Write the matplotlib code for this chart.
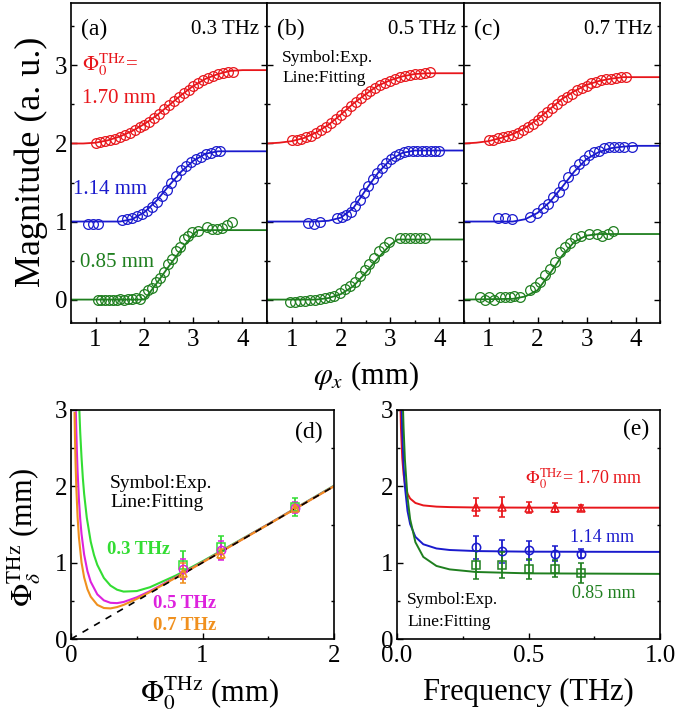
import matplotlib
matplotlib.use("Agg")
import matplotlib.pyplot as plt
from matplotlib.ticker import MultipleLocator

plt.rcParams['font.family'] = ['Liberation Serif', 'DejaVu Serif']
plt.rcParams['mathtext.fontset'] = 'stix'

# ---------------- data: panels (a)-(c), magnitude vs phi_x ----------------
fit_grid = [0.5, 0.75, 1.0, 1.25, 1.5, 1.75, 2.0, 2.25, 2.5, 2.75, 3.0, 3.25, 3.5, 3.75, 4.0, 4.25, 4.5]

# (a) 0.3 THz
a_red_fit = [2.00, 2.00, 2.01, 2.04, 2.09, 2.16, 2.25, 2.36, 2.49, 2.62, 2.74, 2.83, 2.89, 2.93, 2.94, 2.94, 2.94]
a_blue_fit = [1.0, 1.0, 1.0, 1.0, 1.0, 1.03, 1.12, 1.27, 1.46, 1.64, 1.78, 1.87, 1.90, 1.90, 1.90, 1.90, 1.90]
a_green_fit_x = [0.5, 2.0, 2.25, 2.5, 2.75, 3.0, 3.1, 4.5]
a_green_fit = [0.0, 0.0, 0.21, 0.43, 0.64, 0.84, 0.89, 0.89]

a_red_x = [1.0, 1.1, 1.2, 1.3, 1.4, 1.5, 1.6, 1.7, 1.8, 1.9, 2.0, 2.1, 2.2, 2.3, 2.4, 2.5, 2.6, 2.7, 2.8, 2.9,
           3.0, 3.1, 3.2, 3.3, 3.4, 3.5, 3.6, 3.7, 3.8]
a_red_y = [2.00, 2.02, 2.03, 2.04, 2.06, 2.08, 2.11, 2.14, 2.17, 2.21, 2.24, 2.28, 2.33, 2.38, 2.44, 2.49, 2.54,
           2.60, 2.65, 2.69, 2.74, 2.78, 2.81, 2.84, 2.87, 2.89, 2.90, 2.91, 2.92]
a_blue_x = [0.85, 0.95, 1.05, 1.55, 1.65, 1.75, 1.85, 1.95, 2.05, 2.15, 2.25, 2.35, 2.45, 2.55, 2.65, 2.75, 2.85,
            2.95, 3.05, 3.15, 3.25, 3.35, 3.45, 3.55]
a_blue_y = [0.97, 0.97, 0.97, 1.02, 1.03, 1.05, 1.07, 1.10, 1.14, 1.19, 1.25, 1.33, 1.41, 1.50, 1.58, 1.66, 1.71,
            1.76, 1.80, 1.83, 1.86, 1.88, 1.90, 1.91]
a_green_x = [1.05, 1.12, 1.2, 1.28, 1.35, 1.43, 1.5, 1.58, 1.66, 1.74, 1.82, 1.9, 2.0, 2.08, 2.16, 2.24, 2.32, 2.4,
             2.48, 2.56, 2.64, 2.72, 2.8, 2.88, 2.96, 3.1, 3.27, 3.38, 3.48, 3.58, 3.68, 3.78]
a_green_y = [0.0, -0.01, 0.0, 0.0, -0.01, 0.0, 0.01, 0.0, 0.01, 0.01, 0.02, 0.01, 0.07, 0.12, 0.15, 0.22, 0.28,
             0.35, 0.45, 0.52, 0.62, 0.68, 0.78, 0.82, 0.86, 0.88, 0.93, 0.90, 0.91, 0.92, 0.95, 0.99]

# (b) 0.5 THz
b_red_fit = [2.00, 2.01, 2.03, 2.07, 2.14, 2.24, 2.37, 2.51, 2.63, 2.74, 2.81, 2.86, 2.89, 2.90, 2.90, 2.90, 2.90]
b_blue_fit = [1.0, 1.0, 1.0, 1.0, 1.0, 1.01, 1.05, 1.17, 1.40, 1.62, 1.79, 1.88, 1.91, 1.91, 1.91, 1.91, 1.91]
b_green_fit_x = [0.5, 1.5, 1.75, 2.0, 2.25, 2.5, 2.75, 3.0, 3.15, 4.5]
b_green_fit = [0.0, 0.0, 0.02, 0.07, 0.17, 0.34, 0.53, 0.70, 0.77, 0.77]

b_red_x = a_red_x
b_red_y = [2.04, 2.05, 2.06, 2.08, 2.10, 2.13, 2.17, 2.21, 2.26, 2.31, 2.36, 2.42, 2.48, 2.53, 2.58, 2.63, 2.67,
           2.71, 2.75, 2.78, 2.80, 2.83, 2.85, 2.87, 2.88, 2.89, 2.89, 2.90, 2.91]
b_blue_x = [1.33, 1.45, 1.57, 1.93, 2.02, 2.11, 2.2, 2.29, 2.38, 2.47, 2.56, 2.65, 2.74, 2.83, 2.92, 3.01, 3.1,
            3.19, 3.28, 3.37, 3.46, 3.55, 3.64, 3.73, 3.82, 3.91, 4.0]
b_blue_y = [0.98, 0.97, 0.99, 1.04, 1.06, 1.09, 1.12, 1.20, 1.28, 1.36, 1.46, 1.54, 1.62, 1.69, 1.75, 1.80, 1.84,
            1.87, 1.89, 1.90, 1.91, 1.91, 1.91, 1.91, 1.91, 1.90, 1.90]
b_green_x = [0.97, 1.07, 1.17, 1.27, 1.37, 1.47, 1.57, 1.67, 1.77, 1.87, 1.98, 2.08, 2.18, 2.28, 2.38, 2.48, 2.58,
             2.68, 2.78, 2.88, 2.98, 3.2, 3.3, 3.4, 3.5, 3.6, 3.7]
b_green_y = [-0.03, -0.03, -0.02, -0.02, -0.01, 0.0, 0.01, 0.02, 0.03, 0.05, 0.09, 0.13, 0.17, 0.23, 0.30, 0.38,
             0.45, 0.53, 0.62, 0.68, 0.74, 0.79, 0.79, 0.79, 0.79, 0.79, 0.79]

# (c) 0.7 THz
c_red_fit = [2.00, 2.01, 2.03, 2.07, 2.12, 2.20, 2.31, 2.44, 2.57, 2.67, 2.75, 2.80, 2.83, 2.85, 2.85, 2.85, 2.85]
c_blue_fit = [1.0, 1.0, 1.0, 1.0, 1.0, 1.03, 1.11, 1.25, 1.44, 1.64, 1.80, 1.89, 1.94, 1.96, 1.97, 1.97, 1.97]
c_green_fit_x = [0.5, 1.5, 1.75, 2.0, 2.25, 2.5, 2.75, 3.0, 3.25, 4.5]
c_green_fit = [0.0, 0.01, 0.04, 0.12, 0.33, 0.56, 0.74, 0.82, 0.84, 0.84]

c_red_x = a_red_x
c_red_y = [2.04, 2.05, 2.07, 2.08, 2.09, 2.11, 2.14, 2.17, 2.21, 2.25, 2.30, 2.35, 2.40, 2.46, 2.51, 2.56, 2.60,
           2.64, 2.68, 2.71, 2.74, 2.77, 2.79, 2.81, 2.82, 2.83, 2.84, 2.85, 2.85]
c_blue_x = [1.2, 1.33, 1.47, 1.84, 1.98, 2.12, 2.22, 2.32, 2.43, 2.53, 2.63, 2.74, 2.84, 2.95, 3.05, 3.15, 3.26,
            3.36, 3.46, 3.56, 3.67, 3.77, 3.92]
c_blue_y = [1.04, 1.05, 1.03, 1.06, 1.11, 1.17, 1.23, 1.32, 1.38, 1.47, 1.57, 1.66, 1.74, 1.79, 1.85, 1.89, 1.91,
            1.94, 1.96, 1.96, 1.96, 1.96, 1.96]
c_green_x = [0.82, 0.92, 1.02, 1.12, 1.23, 1.33, 1.43, 1.53, 1.64, 1.84, 1.95, 2.05, 2.15, 2.26, 2.36, 2.46, 2.57,
             2.67, 2.77, 2.88, 3.05, 3.22, 3.32, 3.43, 3.55]
c_green_y = [0.03, 0.0, 0.03, 0.0, 0.03, 0.03, 0.03, 0.04, 0.03, 0.12, 0.16, 0.22, 0.31, 0.39, 0.48, 0.61, 0.67,
             0.73, 0.79, 0.82, 0.84, 0.84, 0.82, 0.84, 0.88]

# ---------------- data: panels (d), (e) ----------------
freqs = [0.3, 0.4, 0.5, 0.6, 0.7]
phi0_vals = [0.85, 1.14, 1.70]
delta_085 = [0.97, 0.97, 0.92, 0.92, 0.87]
err_085 = [0.18, 0.17, 0.13, 0.11, 0.13]
delta_114 = [1.20, 1.15, 1.16, 1.12, 1.12]
err_114 = [0.15, 0.15, 0.12, 0.10, 0.06]
delta_170 = [1.73, 1.73, 1.72, 1.72, 1.72]
err_170 = [0.12, 0.13, 0.07, 0.06, 0.04]

# (d) fitted curves vs phi0
d_03_x = [0.063, 0.07, 0.08, 0.09, 0.1, 0.12, 0.15, 0.175, 0.2, 0.25, 0.3, 0.35, 0.4, 0.5, 0.6, 0.8, 1.0, 1.5, 2.0]
d_03_y = [3.02, 2.71, 2.38, 2.11, 1.90, 1.59, 1.275, 1.10, 0.971, 0.80, 0.70, 0.646, 0.621, 0.628, 0.678, 0.834,
          1.018, 1.505, 2.009]
d_05_x = [0.037, 0.04, 0.045, 0.05, 0.06, 0.07, 0.08, 0.1, 0.125, 0.15, 0.2, 0.25, 0.3, 0.35, 0.4, 0.5, 0.6, 0.8,
          1.0, 1.5, 2.0]
d_05_y = [2.97, 2.75, 2.445, 2.20, 1.834, 1.573, 1.377, 1.105, 0.889, 0.749, 0.585, 0.506, 0.474, 0.470, 0.485,
          0.546, 0.627, 0.812, 1.006, 1.503, 2.003]
d_07_x = [0.027, 0.03, 0.035, 0.04, 0.05, 0.06, 0.08, 0.1, 0.125, 0.15, 0.2, 0.25, 0.3, 0.35, 0.4, 0.5, 0.6, 0.8,
          1.0, 1.5, 2.0]
d_07_y = [2.96, 2.667, 2.286, 2.0, 1.60, 1.335, 1.003, 0.806, 0.652, 0.554, 0.447, 0.406, 0.401, 0.418, 0.447,
          0.525, 0.615, 0.806, 1.003, 1.5, 2.0]
guide_x = [0.0, 2.0]
guide_y = [0.0, 2.0]

# (e) fitted curves vs frequency
e_170_x = [0.012, 0.015, 0.02, 0.025, 0.03, 0.04, 0.05, 0.07, 0.1, 0.15, 0.2, 0.3, 0.5, 1.0]
e_170_y = [3.22, 2.77, 2.37, 2.16, 2.035, 1.903, 1.84, 1.782, 1.75, 1.734, 1.728, 1.723, 1.721, 1.72]
e_114_x = [0.015, 0.017, 0.02, 0.025, 0.03, 0.04, 0.05, 0.07, 0.1, 0.15, 0.2, 0.3, 0.5, 1.0]
e_114_y = [3.46, 3.1, 2.71, 2.27, 1.995, 1.676, 1.505, 1.338, 1.241, 1.186, 1.166, 1.152, 1.144, 1.141]
e_085_x = [0.02, 0.022, 0.025, 0.03, 0.04, 0.05, 0.07, 0.1, 0.15, 0.2, 0.3, 0.5, 1.0]
e_085_y = [3.40, 3.12, 2.77, 2.356, 1.854, 1.568, 1.268, 1.075, 0.957, 0.912, 0.878, 0.860, 0.853]

RED = '#e8161b'
BLUE = '#1a1acd'
GREEN = '#1f7f1f'
LIME = '#33dd33'
MAGENTA = '#dd22dd'
ORANGE = '#f0901e'


def style(ax):
    ax.tick_params(which='both', direction='in', top=False, right=True, labelsize=18, width=1.0)
    ax.tick_params(axis='x', pad=4)
    ax.tick_params(axis='y', pad=2.5)
    ax.tick_params(which='major', length=4)
    ax.tick_params(which='minor', length=2.5)
    for sp in ax.spines.values():
        sp.set_linewidth(1.2)


fig = plt.figure(figsize=(6.85, 7.15), dpi=100)
W, H = 685.0, 715.0

def add_ax(x0, y0, x1, y1):
    return fig.add_axes([x0 / W, 1 - y1 / H, (x1 - x0) / W, (y1 - y0) / H])

# ---------------- top row ----------------
top_bounds = [(71, 267), (267, 464), (464, 660)]
panels = [
    ('(a)', '0.3 THz', a_red_fit, a_blue_fit, a_green_fit_x, a_green_fit,
     a_red_x, a_red_y, a_blue_x, a_blue_y, a_green_x, a_green_y),
    ('(b)', '0.5 THz', b_red_fit, b_blue_fit, b_green_fit_x, b_green_fit,
     b_red_x, b_red_y, b_blue_x, b_blue_y, b_green_x, b_green_y),
    ('(c)', '0.7 THz', c_red_fit, c_blue_fit, c_green_fit_x, c_green_fit,
     c_red_x, c_red_y, c_blue_x, c_blue_y, c_green_x, c_green_y),
]
top_axes = []
for (x0, x1), p in zip(top_bounds, panels):
    ax = add_ax(x0, 3, x1, 323)
    tag, freq, rf, bf, gfx, gf, rx, ry, bx, by, gx, gy = p
    ax.plot(fit_grid, rf, color=RED, lw=1.3)
    ax.plot(fit_grid, bf, color=BLUE, lw=1.3)
    ax.plot(gfx, gf, color=GREEN, lw=1.3)
    mk = dict(ls='none', marker='o', ms=7, mfc='none', mew=0.9)
    ax.plot(rx, ry, color=RED, **mk)
    ax.plot(bx, by, color=BLUE, **mk)
    ax.plot(gx, gy, color=GREEN, **mk)
    ax.set_xlim(0.5, 4.5)
    ax.set_ylim(-0.3, 3.8)
    ax.xaxis.set_major_locator(MultipleLocator(1))
    ax.xaxis.set_minor_locator(MultipleLocator(0.5))
    ax.yaxis.set_major_locator(MultipleLocator(1))
    ax.yaxis.set_minor_locator(MultipleLocator(0.5))
    style(ax)
    ax.set_xticks([1, 2, 3, 4])
    if tag != '(a)':
        ax.tick_params(labelleft=False)
    ax.text(0.05, 0.916, tag, transform=ax.transAxes, fontsize=17, va='center', ha='left')
    ax.text(0.96, 0.916, freq, transform=ax.transAxes, fontsize=15, va='center', ha='right')
    top_axes.append(ax)

axa, axb, axc = top_axes
axa.text(0.056, 0.806, r'$\Phi_0^{\rm THz}$=', transform=axa.transAxes, color=RED, fontsize=15, va='center')
axa.text(0.056, 0.703, '1.70 mm', transform=axa.transAxes, color=RED, fontsize=15, va='center')
axa.text(0.01, 0.416, '1.14 mm', transform=axa.transAxes, color=BLUE, fontsize=15, va='center')
axa.text(0.046, 0.19, '0.85 mm', transform=axa.transAxes, color=GREEN, fontsize=15, va='center')
axb.text(0.076, 0.828, 'Symbol:Exp.', transform=axb.transAxes, fontsize=12.5, va='center')
axb.text(0.076, 0.766, 'Line:Fitting', transform=axb.transAxes, fontsize=12.5, va='center')

fig.text(31 / W, 1 - 162 / H, 'Magnitude (a. u.)', rotation=90, fontsize=26, ha='center', va='center')
fig.text(366 / W, 1 - 376 / H, r'$\varphi_x$ (mm)', fontsize=22, ha='center', va='center')

# ---------------- (d) ----------------
axd = add_ax(71, 410, 334, 639)
axd.plot(d_03_x, d_03_y, color=LIME, lw=1.5)
axd.plot(d_05_x, d_05_y, color=MAGENTA, lw=1.5)
axd.plot(d_07_x, d_07_y, color=ORANGE, lw=1.5)
axd.plot(guide_x, guide_y, color='black', ls=(0, (4, 4)), lw=1.2)
eb = dict(ls='none', capsize=2.5, elinewidth=1.3, capthick=1.3, ms=6, mfc='none', mew=1.1)
axd.errorbar(phi0_vals, [delta_085[0], delta_114[0], delta_170[0]],
             yerr=[err_085[0], err_114[0], err_170[0]], color=LIME, marker='s', **eb)
axd.errorbar(phi0_vals, [delta_085[2], delta_114[2], delta_170[2]],
             yerr=[err_085[2], err_114[2], err_170[2]], color=MAGENTA, marker='o', **eb)
axd.errorbar(phi0_vals, [delta_085[4], delta_114[4], delta_170[4]],
             yerr=[err_085[4], err_114[4], err_170[4]], color=ORANGE, marker='^', **eb)
axd.set_xlim(0, 2)
axd.set_ylim(0, 3)
axd.xaxis.set_major_locator(MultipleLocator(1))
axd.xaxis.set_minor_locator(MultipleLocator(0.5))
axd.yaxis.set_major_locator(MultipleLocator(1))
axd.yaxis.set_minor_locator(MultipleLocator(0.5))
style(axd)
axd.tick_params(right=False)
axd.text(0.958, 0.90, '(d)', transform=axd.transAxes, fontsize=17, ha='right', va='center')
axd.text(0.148, 0.681, 'Symbol:Exp.', transform=axd.transAxes, fontsize=14, va='center')
axd.text(0.148, 0.598, 'Line:Fitting', transform=axd.transAxes, fontsize=14, va='center')
axd.text(0.137, 0.389, '0.3 THz', transform=axd.transAxes, fontsize=13.5, color=LIME, weight='bold', va='center')
axd.text(0.312, 0.157, '0.5 THz', transform=axd.transAxes, fontsize=13.5, color=MAGENTA, weight='bold', va='center')
axd.text(0.312, 0.061, '0.7 THz', transform=axd.transAxes, fontsize=13.5, color=ORANGE, weight='bold', va='center')

fig.text(210 / W, 1 - 693 / H, r'$\Phi_0^{\rm THz}$ (mm)', fontsize=22, ha='center', va='center')
fig.text(24 / W, 1 - 537 / H, r'$\Phi_\delta^{\rm THz}$ (mm)', rotation=90, fontsize=22, ha='center', va='center')

# ---------------- (e) ----------------
axe = add_ax(397, 410, 660, 639)
axe.plot(e_170_x, e_170_y, color=RED, lw=1.4)
axe.plot(e_114_x, e_114_y, color=BLUE, lw=1.4)
axe.plot(e_085_x, e_085_y, color=GREEN, lw=1.4)
axe.errorbar(freqs, delta_170, yerr=err_170, color=RED, marker='^', **eb)
axe.errorbar(freqs, delta_114, yerr=err_114, color=BLUE, marker='o', **eb)
axe.errorbar(freqs, delta_085, yerr=err_085, color=GREEN, marker='s', **eb)
axe.set_xlim(0, 1)
axe.set_ylim(0, 3)
axe.xaxis.set_major_locator(MultipleLocator(0.5))
axe.xaxis.set_minor_locator(MultipleLocator(0.25))
axe.yaxis.set_major_locator(MultipleLocator(1))
axe.yaxis.set_minor_locator(MultipleLocator(0.5))
axe.xaxis.set_major_formatter(matplotlib.ticker.FormatStrFormatter('%.1f'))
style(axe)
axe.tick_params(right=False)
axe.text(0.958, 0.913, '(e)', transform=axe.transAxes, fontsize=17, ha='right', va='center')
axe.text(0.487, 0.699, r'$\Phi_0^{\rm THz}$= 1.70 mm', transform=axe.transAxes, fontsize=13, color=RED, va='center')
axe.text(0.658, 0.445, '1.14 mm', transform=axe.transAxes, fontsize=13, color=BLUE, va='center')
axe.text(0.665, 0.200, '0.85 mm', transform=axe.transAxes, fontsize=13, color=GREEN, va='center')
axe.text(0.038, 0.170, 'Symbol:Exp.', transform=axe.transAxes, fontsize=12.5, va='center')
axe.text(0.038, 0.074, 'Line:Fitting', transform=axe.transAxes, fontsize=12.5, va='center')

fig.text(528 / W, 1 - 692 / H, 'Frequency (THz)', fontsize=22, ha='center', va='center')

fig.savefig('out.png', dpi=100)
